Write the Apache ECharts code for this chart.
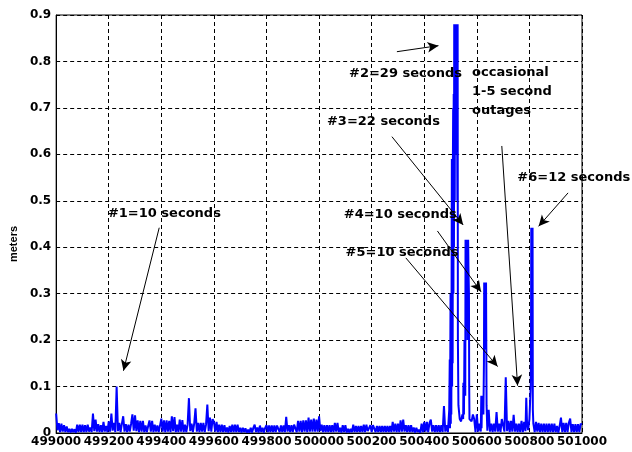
<!DOCTYPE html>
<html><head><meta charset="utf-8">
<script src="https://cdn.jsdelivr.net/npm/echarts@6/dist/echarts.min.js"></script>
<style>html,body{margin:0;padding:0;background:#fff}#c{width:632px;height:452px}</style>
</head><body><div id="c"></div>
<script>
// x positions of noise samples: xStart + i*xStep
const xStart = 499000;
const xStep = 5;
// error magnitude (meters), every 5 s
const noise = [
.042,.006,.021,.002,.020,.003,.017,.002,.014,.002,.009,.001,.009,.002,.008,.001,.018,.002,.018,.002,
.018,.002,.017,.002,.018,.003,.012,.002,.042,.004,.029,.003,.019,.002,.017,.002,.024,.003,.015,.002,
.025,.003,.042,.005,.022,.002,.100,.004,.022,.002,.020,.036,.003,.019,.002,.018,.003,.020,.040,.005,
.038,.004,.027,.002,.026,.003,.026,.002,.016,.002,.015,.027,.003,.026,.002,.018,.003,.016,.002,.016,
.031,.003,.027,.002,.027,.003,.026,.002,.036,.004,.034,.002,.018,.002,.029,.003,.028,.002,.018,.002,
.018,.075,.004,.020,.002,.020,.053,.003,.022,.002,.022,.003,.022,.002,.018,.061,.004,.033,.003,.030,
.024,.003,.024,.002,.018,.002,.018,.002,.017,.002,.012,.001,.015,.002,.018,.002,.018,.002,.018,.002,
.011,.001,.011,.002,.010,.001,.007,.001,.011,.001,.011,.018,.002,.012,.001,.016,.002,.011,.001,.011,
.017,.002,.016,.002,.016,.002,.016,.002,.016,.020,.002,.016,.002,.016,.002,.035,.003,.017,.002,.017,
.002,.018,.022,.002,.026,.003,.026,.002,.027,.003,.027,.002,.033,.003,.029,.003,.031,.003,.029,.003,
.036,.004,.018,.002,.017,.002,.017,.002,.017,.002,.017,.002,.022,.003,.022,.002,.011,.001,.017,.002,
.017,.001,.009,.001,.009,.002,.018,.002,.015,.002,.015,.002,.015,.002,.018,.002,.018,.004,.001,.017,
.002,.017,.015,.002,.015,.002,.015,.002,.015,.002,.015,.002,.015,.002,.015,.002,.024,.003,.020,.002,
.020,.002,.027,.003,.029,.003,.017,.002,.017,.002,.017,.002,.012,.001,.011,.002,.007,.001,.020,.002,
.024,.003,.024,.002,.022,.029,.003,.017,.002,.017,.002,.017,.002,.017,.002,.058,.003,.017,.002,.050,
.300,.590,.700,.880,.880,.880,.060,.030,.025,.040,.100,.200,.410,.410,.300,.030,.025,.040,.030,.002,
.040,.003,.020,.003,.080,.040,.324,.324,.005,.050,.003,.020,.002,.020,.003,.045,.003,.020,.002,.030,
.026,.003,.120,.004,.026,.002,.026,.003,.039,.003,.020,.002,.020,.002,.026,.002,.024,.004,.076,.006,
.030,.100,.442,.020,.002,.024,.003,.022,.002,.020,.002,.020,.002,.020,.002,.020,.002,.020,.002,.020,
.002,.015,.001,.015,.033,.002,.022,.002,.022,.002,.022,.031,.002,.019,.002,.019,.002,.019,.002,.020,
.018
];
// extra finely-spaced samples inside the outages [x, meters]
const burst = [
[500497,.158],[500498,.010],[500501,.020],[500502,.300],[500503,.040],[500506,.100],[500507,.590],[500508,.150],
[500509,.590],[500511,.300],[500512,.730],[500513,.400],[500514,.880],[500516,.500],[500517,.880],[500518,.600],
[500519,.880],[500521,.700],[500522,.880],[500523,.600],[500524,.880],[500526,.500],[500527,.880],[500528,.200],
[500548,.030],[500549,.108],[500551,.040],[500553,.200],[500556,.080],[500557,.416],[500558,.200],[500559,.416],
[500561,.250],[500562,.416],[500563,.300],[500564,.416],[500566,.200],[500567,.416],[500568,.360],[500569,.360],
[500571,.100],[500572,.030],
[500617,.080],[500618,.010],[500627,.150],[500628,.324],[500629,.200],[500631,.324],[500632,.250],[500633,.324],
[500634,.180],[500636,.324],[500637,.060],
[500788,.076],[500791,.020],[500806,.200],[500807,.442],[500808,.300],[500809,.442],[500811,.350],[500812,.442],[500813,.050]
];
const xMin = 499000, xMax = 501000, xInterval = 200;
const yMin = 0, yMax = 0.9, yInterval = 0.1;
const yName = 'meters';
// annotation texts: [text, x, y] (left-middle anchor in data units)
const notes = [
['#1=10 seconds', 499195, 0.472],
['#2=29 seconds', 500112, 0.773],
['#3=22 seconds', 500028, 0.670],
['#4=10 seconds', 500092, 0.470],
['#5=10 seconds', 500099, 0.388],
['occasional\n1-5 second\noutages', 500580, 0.736],
['#6=12 seconds', 500752, 0.550]
];
// arrows: [x1, y1, x2 (tip), y2 (tip)]
const arrows = [
[499392, 0.442, 499256, 0.134],
[500296, 0.821, 500454, 0.834],
[500277, 0.638, 500548, 0.448],
[500450, 0.435, 500616, 0.304],
[500330, 0.377, 500679, 0.143],
[500695, 0.618, 500755, 0.102],
[500947, 0.517, 500835, 0.445]
];

const pts = noise.map((v, i) => [xStart + i * xStep, v]).concat(burst).sort((a, b) => a[0] - b[0]);

const chart = echarts.init(document.getElementById('c'), null, {renderer: 'canvas'});
const lblFont = {fontFamily: 'DejaVu Sans', fontWeight: 'bold', fontSize: 12, color: '#000'};
chart.setOption({
  animation: false,
  backgroundColor: '#fff',
  grid: {left: 51, right: 50, top: 15, bottom: 19, show: true, borderColor: '#000', borderWidth: 1, backgroundColor: '#fff'},
  xAxis: {
    type: 'value', min: xMin, max: xMax, interval: xInterval,
    axisLine: {show: true, lineStyle: {color: '#000', width: 1}},
    axisTick: {show: false},
    axisLabel: Object.assign({margin: 3, showMinLabel: true, showMaxLabel: true, hideOverlap: false, formatter: v => String(v)}, lblFont),
    splitLine: {show: true, lineStyle: {color: '#000', type: [4, 3], width: 1}}
  },
  yAxis: {
    type: 'value', min: yMin, max: yMax, interval: yInterval,
    name: yName, nameLocation: 'middle', nameGap: 33, nameRotate: 90,
    nameTextStyle: {fontFamily: 'Liberation Sans', fontWeight: 'bold', fontSize: 11, color: '#000', padding: [0, 40, 0, 0]},
    axisLine: {show: true, lineStyle: {color: '#000', width: 1}},
    axisTick: {show: false},
    axisLabel: Object.assign({margin: 5, formatter: v => v === 0 ? '0' : v.toFixed(1)}, lblFont),
    splitLine: {show: true, lineStyle: {color: '#000', type: [4, 3], width: 1}}
  },
  series: [{
    type: 'line', data: pts, showSymbol: false, symbol: 'none', sampling: null,
    lineStyle: {color: '#0000ff', width: 2}, z: 3,
    markLine: {
      silent: true, symbol: ['none', 'arrow'], symbolSize: [8, 11],
      label: {show: false},
      lineStyle: {color: '#000', width: 1, type: 'solid'},
      data: arrows.map(a => [{coord: [a[0], a[1]]}, {coord: [a[2], a[3]]}])
    },
    markPoint: {
      silent: true, symbol: 'circle', symbolSize: 1,
      itemStyle: {color: 'rgba(0,0,0,0)'},
      label: {show: true, position: 'right', distance: 0, fontFamily: 'DejaVu Sans', fontWeight: 'bold', fontSize: 13, color: '#000', lineHeight: 19, align: 'left', verticalAlign: 'middle'},
      data: notes.map(n => ({coord: [n[1], n[2]], name: n[0], label: {formatter: n[0]}}))
    }
  }]
});
</script></body></html>
